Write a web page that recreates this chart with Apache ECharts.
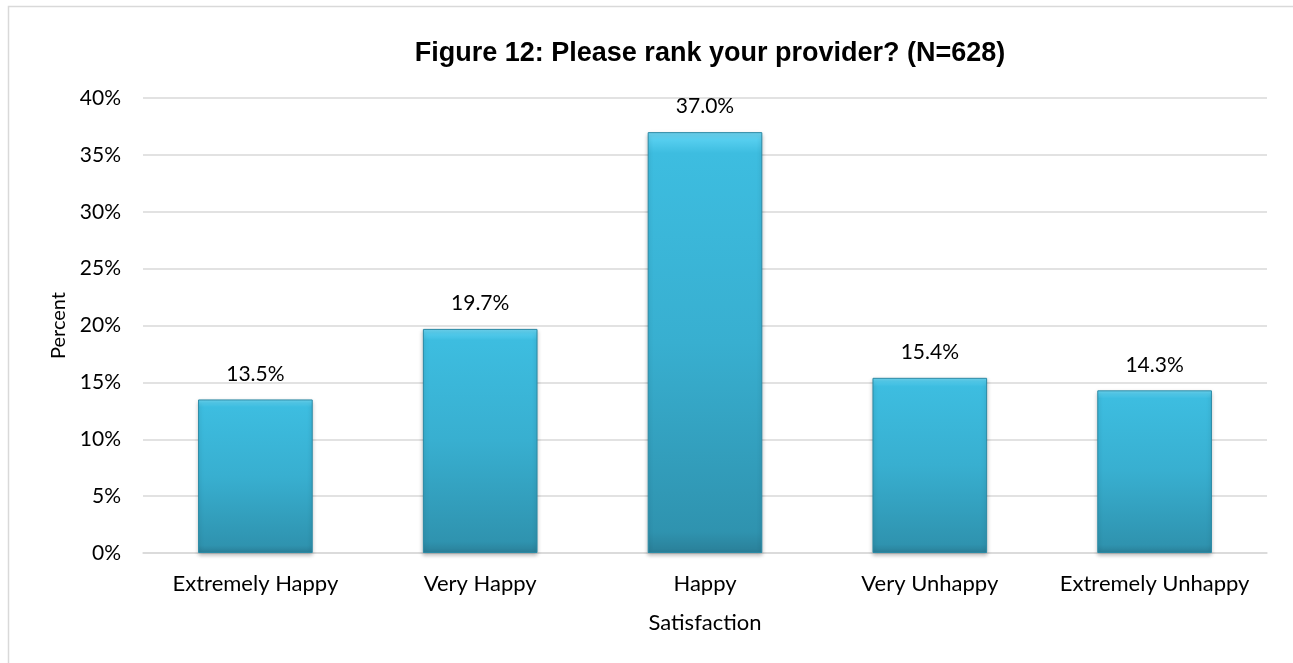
<!DOCTYPE html>
<html><head><meta charset="utf-8">
<script src="https://cdn.jsdelivr.net/npm/echarts@6/dist/echarts.min.js"></script>
<style>html,body{margin:0;padding:0;background:#fff}#c{width:1293px;height:663px}</style>
</head><body><div id="c"></div>
<script>
const categories = ['Extremely Happy','Very Happy','Happy','Very Unhappy','Extremely Unhappy'];
const values = [13.5, 19.7, 37.0, 15.4, 14.3];
const yTicks = [0,5,10,15,20,25,30,35,40];

const chart = echarts.init(document.getElementById('c'));
const font = 'Lato, "Open Sans", sans-serif';
chart.setOption({
  animation: false,
  graphic: [{type:'rect', shape:{x:8.5,y:6.5,width:1300,height:680}, style:{fill:'none', stroke:'#d9d9d9', lineWidth:1.5}, silent:true}],
  title: {text:'Figure 12: Please rank your provider? (N=628)', left:705, textAlign:'center', top:35,
    textStyle:{fontFamily:'Liberation Sans, Arial, sans-serif', fontWeight:'bold', fontSize:27, color:'#000'}},
  grid: {left:143, right:26, top:98, bottom:110},
  xAxis: {type:'category', data:categories,
    name:'Satisfaction', nameLocation:'middle', nameGap:59,
    nameTextStyle:{fontFamily:font, fontSize:22, color:'#000'},
    axisLine:{lineStyle:{color:'#d9d9d9', width:1.5}}, axisTick:{show:false},
    axisLabel:{fontFamily:font, fontSize:22, color:'#000', margin:20, interval:0}},
  yAxis: {type:'value', min:0, max:40, interval:5,
    name:'Percent', nameLocation:'middle', nameGap:72,
    nameTextStyle:{fontFamily:font, fontSize:20, color:'#000'},
    axisLine:{show:false}, axisTick:{show:false},
    splitLine:{lineStyle:{color:'#d9d9d9', width:1.5}},
    axisLabel:{fontFamily:font, fontSize:21, color:'#000', margin:22, formatter: v => yTicks.includes(v) ? v + '%' : ''}},
  series: [{type:'bar', data:values, barCategoryGap:'49%',
    itemStyle:{
      color:{type:'linear', x:0,y:0,x2:0,y2:1, colorStops:[
        {offset:0, color:'#6fd6f2'},{offset:0.02, color:'#54cdee'},{offset:0.05, color:'#3dbde0'},
        {offset:0.5, color:'#38afd0'},{offset:0.95, color:'#2f93af'},{offset:1, color:'#2a7f98'}]},
      borderColor:'#2b8aa5', borderWidth:1,
      shadowColor:'rgba(0,0,0,0.25)', shadowBlur:4, shadowOffsetY:2},
    label:{show:true, position:'top', distance:15, fontFamily:font, fontSize:21, color:'#000',
      formatter: p => p.value.toFixed(1) + '%'}
  }]
});
</script></body></html>
